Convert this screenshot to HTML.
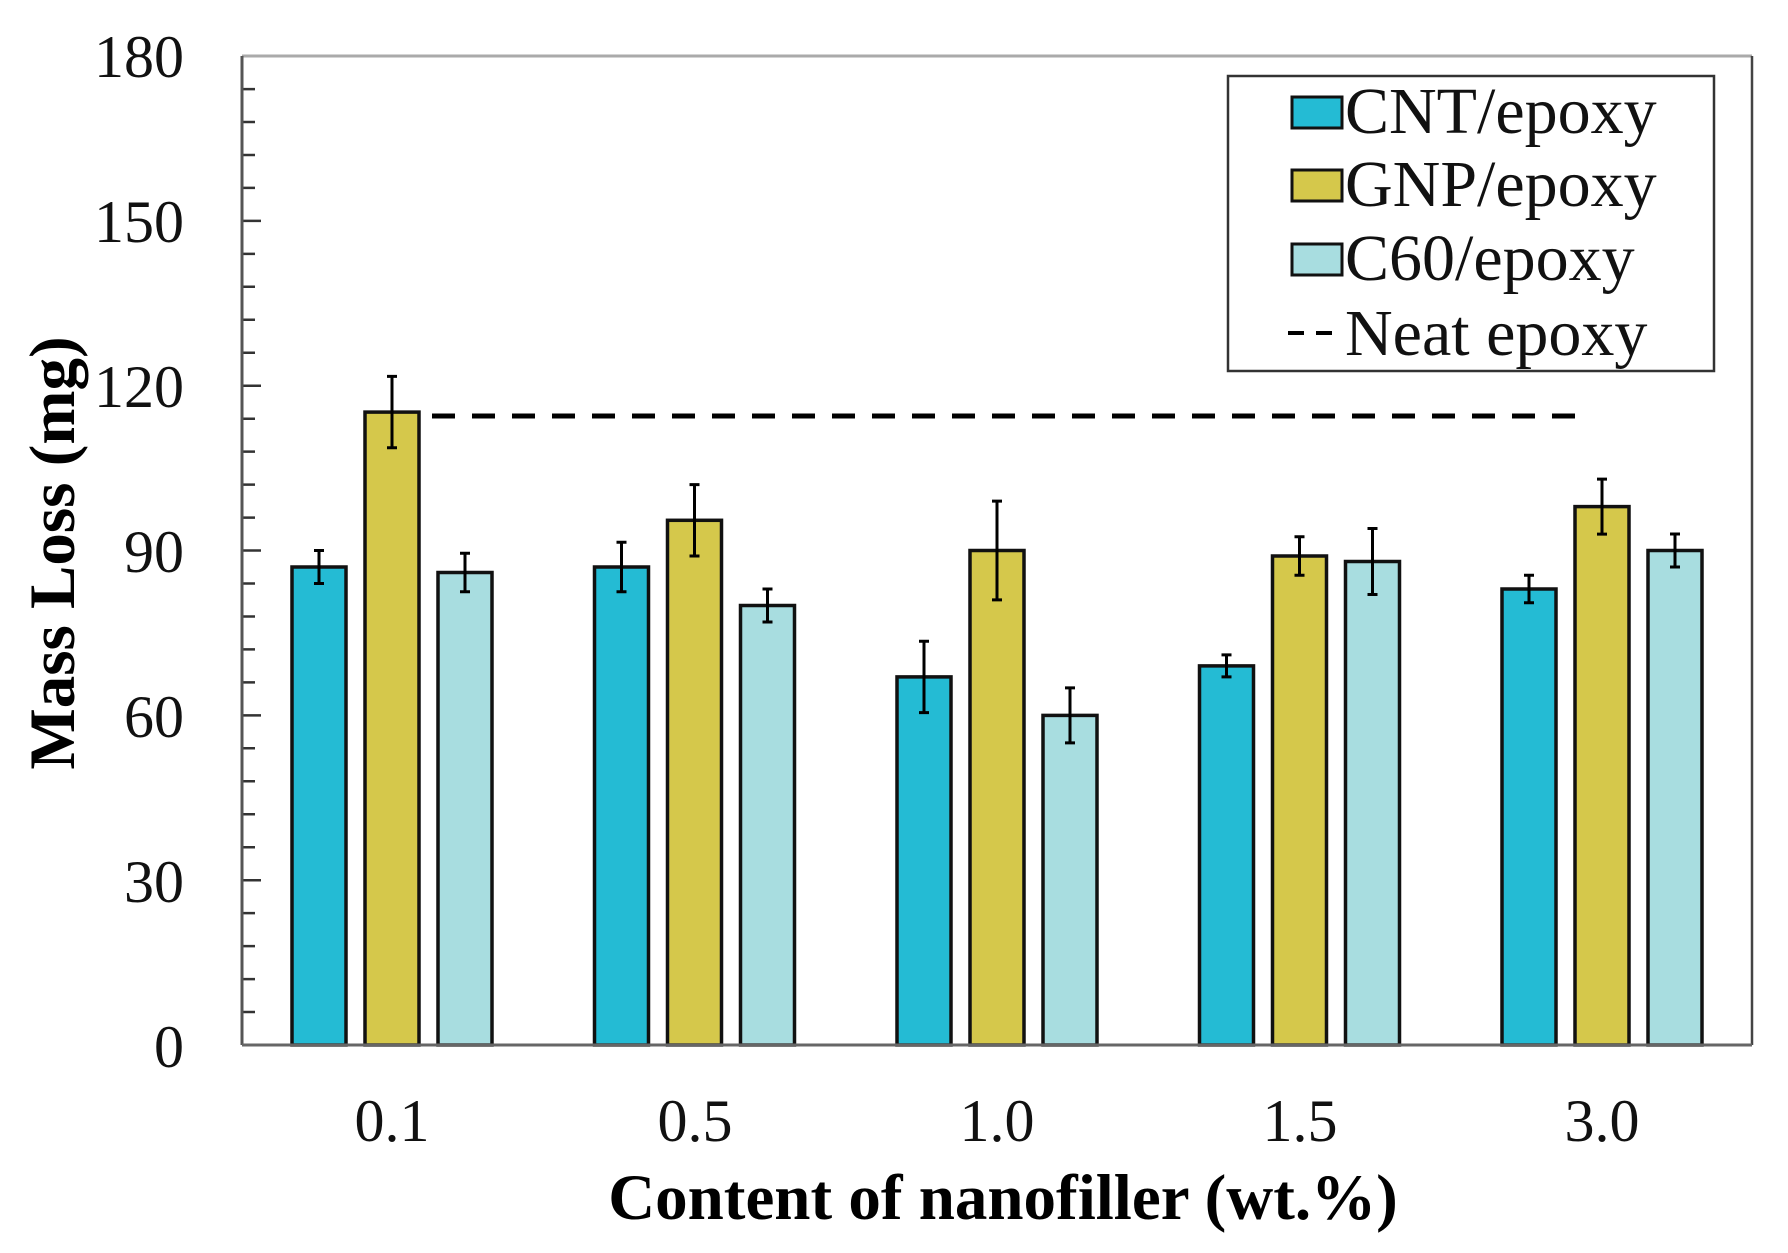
<!DOCTYPE html>
<html><head><meta charset="utf-8"><style>
html,body{margin:0;padding:0;background:#fff;}
svg{display:block;}
</style></head><body>
<svg width="1788" height="1253" viewBox="0 0 1788 1253" xmlns="http://www.w3.org/2000/svg" font-family="Liberation Serif, serif">
<rect width="1788" height="1253" fill="#fff"/>
<path stroke="#333" stroke-width="2.5" fill="none" d="M242 1012H255M242 979.1H255M242 946.1H255M242 913.1H255M242 880.2H261M242 847.2H255M242 814.3H255M242 781.3H255M242 748.3H255M242 715.4H261M242 682.4H255M242 649.4H255M242 616.5H255M242 583.5H255M242 550.5H261M242 517.6H255M242 484.6H255M242 451.6H255M242 418.7H255M242 385.7H261M242 352.8H255M242 319.8H255M242 286.8H255M242 253.9H255M242 220.9H261M242 187.9H255M242 155H255M242 122H255M242 89.1H255"/>
<g stroke="#111" stroke-width="3.5">
<rect x="292" y="567" width="54" height="478" fill="#24bbd4"/>
<rect x="365" y="412.1" width="54" height="632.9" fill="#d5c84b"/>
<rect x="438" y="572.5" width="54" height="472.5" fill="#a8dde0"/>
<rect x="594.5" y="567" width="54" height="478" fill="#24bbd4"/>
<rect x="667.5" y="520.3" width="54" height="524.7" fill="#d5c84b"/>
<rect x="740.5" y="605.5" width="54" height="439.5" fill="#a8dde0"/>
<rect x="897" y="676.9" width="54" height="368.1" fill="#24bbd4"/>
<rect x="970" y="550.5" width="54" height="494.5" fill="#d5c84b"/>
<rect x="1043" y="715.4" width="54" height="329.6" fill="#a8dde0"/>
<rect x="1199.5" y="665.9" width="54" height="379.1" fill="#24bbd4"/>
<rect x="1272.5" y="556" width="54" height="489" fill="#d5c84b"/>
<rect x="1345.5" y="561.5" width="54" height="483.5" fill="#a8dde0"/>
<rect x="1502" y="589" width="54" height="456" fill="#24bbd4"/>
<rect x="1575" y="506.6" width="54" height="538.4" fill="#d5c84b"/>
<rect x="1648" y="550.5" width="54" height="494.5" fill="#a8dde0"/>
</g>
<path stroke="#000" stroke-width="3" fill="none" d="
M314 550.5H324M319 550.5V583.5M314 583.5H324
M387 376.4H397M392 376.4V447.8M387 447.8H397
M460 553.3H470M465 553.3V591.7M460 591.7H470
M616.5 542.3H626.5M621.5 542.3V591.7M616.5 591.7H626.5
M689.5 484.6H699.5M694.5 484.6V556M689.5 556H699.5
M762.5 589H772.5M767.5 589V622M762.5 622H772.5
M919 641.2H929M924 641.2V712.6M919 712.6H929
M992 501.1H1002M997 501.1V599.9M992 599.9H1002
M1065 687.9H1075M1070 687.9V742.9M1065 742.9H1075
M1221.5 654.9H1231.5M1226.5 654.9V676.9M1221.5 676.9H1231.5
M1294.5 536.8H1304.5M1299.5 536.8V575.2M1294.5 575.2H1304.5
M1367.5 528.5H1377.5M1372.5 528.5V594.5M1367.5 594.5H1377.5
M1524 575.3H1534M1529 575.3V602.7M1524 602.7H1534
M1597 479.1H1607M1602 479.1V534.1M1597 534.1H1607
M1670 534H1680M1675 534V567M1670 567H1680"/>
<line x1="432" y1="416" x2="1582" y2="416" stroke="#000" stroke-width="5" stroke-dasharray="23 17"/>
<line x1="242" y1="56" x2="1752" y2="56" stroke="#aaa" stroke-width="3"/>
<line x1="1752" y1="56" x2="1752" y2="1045" stroke="#444" stroke-width="2.5"/>
<line x1="242" y1="56" x2="242" y2="1045" stroke="#555" stroke-width="3"/>
<line x1="242" y1="1045" x2="1752" y2="1045" stroke="#666" stroke-width="3"/>
<g font-size="60" text-anchor="end" fill="#111">
<text x="184" y="77">180</text><text x="184" y="242">150</text><text x="184" y="407">120</text>
<text x="184" y="572">90</text><text x="184" y="737">60</text><text x="184" y="902">30</text><text x="184" y="1067">0</text>
</g>
<g font-size="60" text-anchor="middle" fill="#111">
<text x="392" y="1141">0.1</text><text x="695" y="1141">0.5</text><text x="997" y="1141">1.0</text>
<text x="1300" y="1141">1.5</text><text x="1602" y="1141">3.0</text>
</g>
<text x="1003" y="1219" font-size="65" font-weight="bold" text-anchor="middle">Content of nanofiller (wt.%)</text>
<text transform="translate(74,553) rotate(-90)" font-size="65" font-weight="bold" text-anchor="middle">Mass Loss (mg)</text>
<rect x="1228" y="76" width="486" height="295" fill="#fff" stroke="#333" stroke-width="2.5"/>
<rect x="1292" y="97" width="50" height="31" fill="#24bbd4" stroke="#111" stroke-width="3"/>
<rect x="1292" y="170" width="50" height="31" fill="#d5c84b" stroke="#111" stroke-width="3"/>
<rect x="1292" y="244" width="50" height="31" fill="#a8dde0" stroke="#111" stroke-width="3"/>
<line x1="1288" y1="333" x2="1344" y2="333" stroke="#000" stroke-width="4" stroke-dasharray="16 12"/>
<g font-size="66" fill="#111">
<text x="1345" y="133">CNT/epoxy</text><text x="1345" y="206">GNP/epoxy</text>
<text x="1345" y="280">C60/epoxy</text><text x="1345" y="355">Neat epoxy</text>
</g>
</svg>
</body></html>
